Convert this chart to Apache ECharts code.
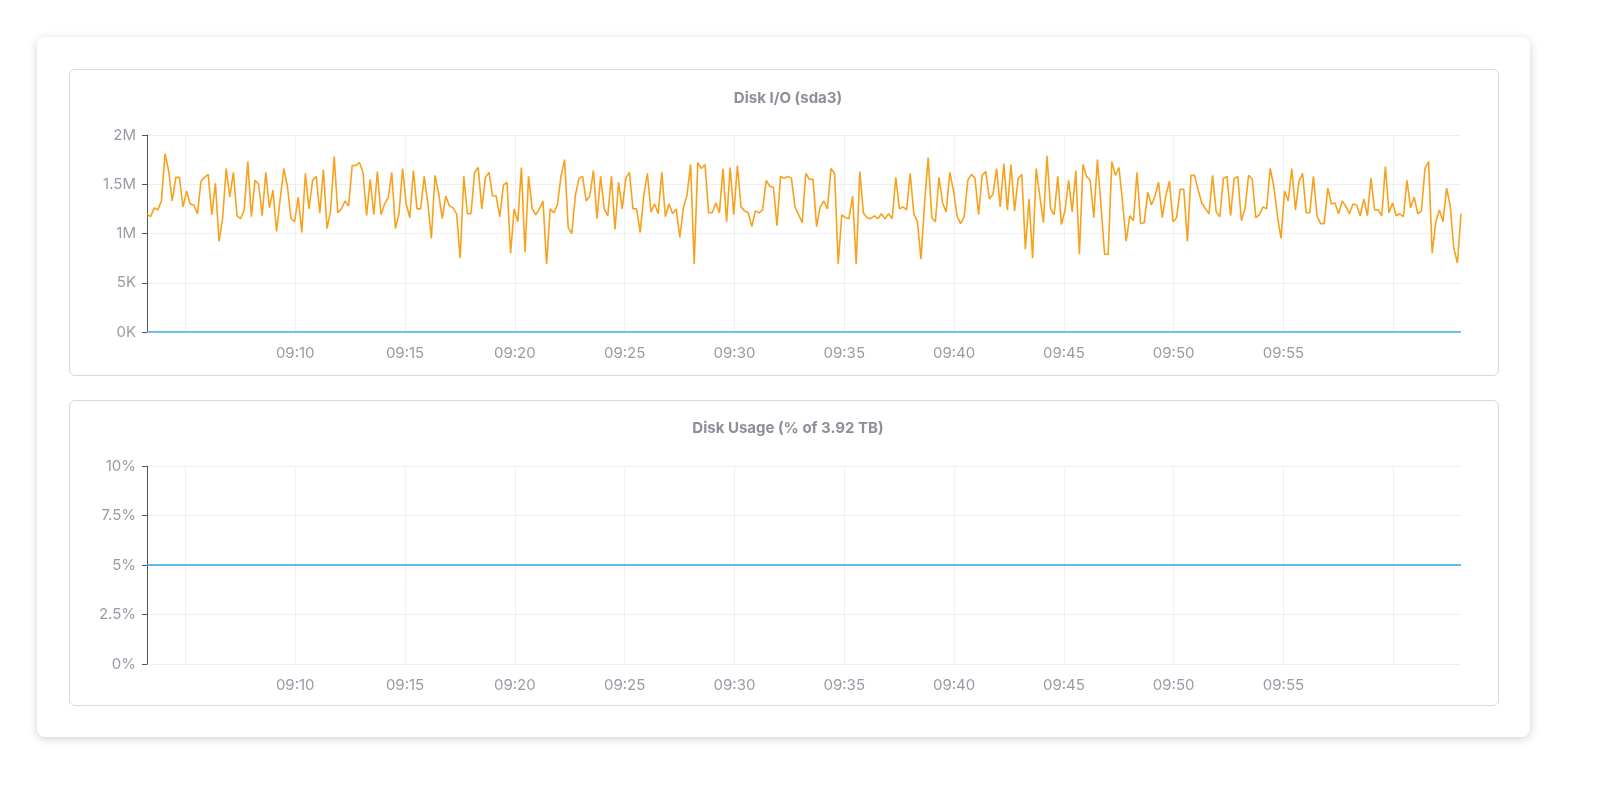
<!DOCTYPE html>
<html>
<head>
<meta charset="utf-8">
<script src="https://cdn.jsdelivr.net/npm/echarts@6/dist/echarts.min.js"></script>
<style>
html,body{margin:0;padding:0;background:#fff;width:1600px;height:791px;overflow:hidden;font-family:Inter,"Noto Sans",sans-serif}
.card{position:absolute;left:37px;top:37px;width:1493px;height:700px;background:#fff;border-radius:8px;box-shadow:0 2px 10px rgba(0,0,0,0.18)}
.panel{position:absolute;left:69px;width:1428px;border:1px solid #d9d9de;border-radius:6px;background:#fff}
#chart{position:absolute;left:0;top:0;width:1600px;height:791px}
</style>
</head>
<body>
<div class="card"></div>
<div class="panel" style="top:69px;height:305px"></div>
<div class="panel" style="top:400px;height:304px"></div>
<div id="chart"></div>
<script>
// disk io, millions of bytes
var ioValues = [
1.20,1.17,1.26,1.24,1.33,1.81,1.64,1.33,1.57,1.57,1.27,1.43,1.30,1.29,1.20,1.53,1.57,1.60,1.19,1.51,0.92,1.15,1.66,1.37,1.62,1.18,1.15,1.24,1.73,1.17,1.54,1.50,1.18,1.62,1.26,1.44,1.02,1.35,1.66,1.48,1.15,1.12,1.37,1.01,1.61,1.25,1.54,1.58,1.21,1.65,1.05,1.23,1.78,1.21,1.25,1.33,1.28,1.69,1.69,1.72,
1.62,1.18,1.55,1.19,1.63,1.19,1.30,1.36,1.62,1.05,1.20,1.66,1.30,1.16,1.64,1.25,1.25,1.58,1.31,0.95,1.59,1.41,1.15,1.38,1.28,1.26,1.20,0.75,1.58,1.20,1.20,1.62,1.67,1.25,1.57,1.62,1.38,1.38,1.17,1.49,1.52,0.80,1.25,1.12,1.67,0.81,1.58,1.25,1.19,1.25,1.33,0.69,1.25,1.21,1.29,1.58,1.75,1.06,1.00,
1.39,1.56,1.58,1.33,1.38,1.64,1.15,1.58,1.25,1.18,1.58,1.04,1.52,1.25,1.56,1.62,1.25,1.25,1.01,1.39,1.61,1.22,1.30,1.20,1.62,1.17,1.30,1.20,1.25,0.96,1.26,1.39,1.70,0.69,1.72,1.66,1.70,1.21,1.21,1.31,1.21,1.66,1.12,1.67,1.19,1.69,1.27,1.23,1.21,1.07,1.23,1.21,1.24,1.54,1.48,1.47,1.08,1.58,1.56,
1.58,1.56,1.27,1.19,1.11,1.61,1.55,1.55,1.07,1.27,1.33,1.25,1.66,1.61,0.69,1.19,1.16,1.15,1.38,0.69,1.63,1.21,1.16,1.15,1.18,1.15,1.20,1.15,1.20,1.15,1.57,1.25,1.27,1.24,1.61,1.20,1.12,0.74,1.31,1.77,1.16,1.12,1.57,1.31,1.22,1.62,1.44,1.18,1.10,1.17,1.54,1.60,1.56,1.19,1.59,1.63,1.35,1.40,1.66,1.27,1.71,1.24,
1.70,1.23,1.56,1.60,0.84,1.35,0.75,1.66,1.38,1.11,1.79,1.25,1.19,1.58,1.09,1.23,1.54,1.22,1.64,0.79,1.70,1.58,1.54,1.16,1.75,1.28,0.79,0.79,1.73,1.59,1.67,1.31,0.92,1.18,1.13,1.62,1.10,1.11,1.42,1.29,1.38,1.52,1.16,1.38,1.53,1.12,1.16,1.45,1.45,0.92,1.59,1.59,1.44,1.31,1.25,1.20,1.59,1.22,1.17,1.56,1.58,1.18,
1.56,1.58,1.13,1.25,1.59,1.55,1.16,1.19,1.27,1.25,1.66,1.48,1.18,0.95,1.43,1.33,1.66,1.24,1.53,1.61,1.21,1.21,1.58,1.18,1.10,1.10,1.46,1.30,1.31,1.20,1.33,1.28,1.20,1.30,1.29,1.18,1.35,1.18,1.56,1.24,1.24,1.18,1.68,1.21,1.31,1.18,1.20,1.17,1.54,1.26,1.37,1.20,1.23,1.66,1.73,0.80,1.12,1.24,1.12,1.46,1.28,0.85,0.70,1.20
];
var usagePercent = 5;
var startTime = new Date(2024, 0, 1, 9, 3, 15).getTime();
var endTime = new Date(2024, 0, 1, 10, 3, 5).getTime();
var timeTicks = ['09:05', '09:10', '09:15', '09:20', '09:25', '09:30', '09:35', '09:40', '09:45', '09:50', '09:55', '10:00'];
var ioTicks = ['0K', '5K', '1M', '1.5M', '2M'];
var usageTicks = ['0%', '2.5%', '5%', '7.5%', '10%'];

var step = (endTime - startTime) / (ioValues.length - 1);
var ioData = [], zeroData = [], usageData = [];
for (var i = 0; i < ioValues.length; i++) {
    var t = startTime + i * step;
    ioData.push([t, ioValues[i] * 1e6]);
    zeroData.push([t, 0]);
    usageData.push([t, usagePercent]);
}
var tickTimes = timeTicks.map(function (s) {
    var p = s.split(':');
    return new Date(2024, 0, 1, +p[0], +p[1], 0).getTime();
});
function pad(n) { return (n < 10 ? '0' : '') + n; }

var labelStyle = {color: '#9a9aa6', fontSize: 15, fontFamily: 'Inter'};
function xAxis(idx) {
    return {
        type: 'value', gridIndex: idx, min: startTime, max: endTime,
        axisLine: {show: false},
        axisTick: {show: false, customValues: tickTimes},
        axisLabel: Object.assign({
            customValues: tickTimes, margin: 14, hideOverlap: false, showMinLabel: false, showMaxLabel: false,
            formatter: function (v) { var d = new Date(v); return pad(d.getHours()) + ':' + pad(d.getMinutes()); }
        }, labelStyle),
        splitLine: {show: true, lineStyle: {color: '#efeff2'}}
    };
}

var myChart = echarts.init(document.getElementById('chart'));
myChart.setOption({
    animation: false,
    title: [
        {text: 'Disk I/O (sda3)', left: 783, top: 86, textAlign: 'center',
         textStyle: {color: '#8e8e99', fontSize: 15, fontWeight: 'bold', fontFamily: 'Inter'}},
        {text: 'Disk Usage (% of 3.92 TB)', left: 783, top: 416, textAlign: 'center',
         textStyle: {color: '#8e8e99', fontSize: 15, fontWeight: 'bold', fontFamily: 'Inter'}}
    ],
    grid: [
        {left: 147, width: 1314, top: 135, height: 197},
        {left: 147, width: 1314, top: 466, height: 198}
    ],
    xAxis: [xAxis(0), xAxis(1)],
    yAxis: [
        {type: 'value', gridIndex: 0, min: 0, max: 2e6, interval: 5e5,
         axisLabel: Object.assign({formatter: function (v) { return ioTicks[Math.round(v / 5e5)]; }, margin: 11}, labelStyle),
         splitLine: {lineStyle: {color: '#efeff2'}}},
        {type: 'value', gridIndex: 1, min: 0, max: 10, interval: 2.5,
         axisLabel: Object.assign({formatter: function (v) { return usageTicks[Math.round(v / 2.5)]; }, margin: 11}, labelStyle),
         splitLine: {lineStyle: {color: '#efeff2'}}}
    ],
    series: [
        {type: 'line', xAxisIndex: 0, yAxisIndex: 0, data: ioData, showSymbol: false,
         lineStyle: {color: '#f8a21c', width: 1.6}, z: 3},
        {type: 'line', xAxisIndex: 0, yAxisIndex: 0, data: zeroData, showSymbol: false,
         lineStyle: {color: '#2aa9ee', width: 1.6}, z: 2},
        {type: 'line', xAxisIndex: 1, yAxisIndex: 1, data: usageData, showSymbol: false,
         lineStyle: {color: '#2aa9ee', width: 1.6}}
    ]
});
</script>
</body>
</html>
